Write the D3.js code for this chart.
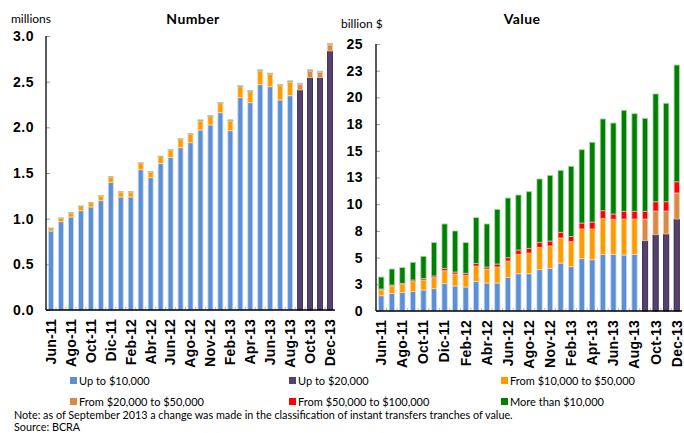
<!DOCTYPE html>
<meta charset="utf-8">
<style>
body { margin: 0; background: #fff; }
svg { font-family: Lato, "DejaVu Sans", sans-serif; }
.tick text { font-weight: bold; }
</style>
<body>
<script src="https://d3js.org/d3.v7.min.js"></script>
<script>

// months shown as categories (two months are missing in the source series)
var months = ["Jun-11","Jul-11","Ago-11","Sep-11","Oct-11","Nov-11","Dic-11","Ene-12","Feb-12","Mar-12",
              "Abr-12","May-12","Jun-12","Jul-12","Ago-12","Oct-12","Nov-12","Ene-13","Feb-13","Mar-13",
              "Apr-13","May-13","Jun-13","Jul-13","Aug-13","Sep-13","Oct-13","Nov-13","Dec-13"];
var tickMonths = months.filter(function(d, i) { return i % 2 === 0; });

// Number (millions)
var numUpTo10k = [0.865,0.967,1.018,1.087,1.128,1.197,1.398,1.237,1.237,1.536,1.449,1.602,1.670,1.777,1.832,
                  1.971,2.026,2.160,1.963,2.325,2.270,2.467,2.445,2.299,2.346,0,0,0,0];
var numUpTo20k = [0,0,0,0,0,0,0,0,0,0,0,0,0,0,0,0,0,0,0,0,0,0,0,0,0,2.409,2.544,2.544,2.836];
var num10kTo50k = [0.029,0.037,0.044,0.048,0.047,0.051,0.058,0.055,0.055,0.070,0.058,0.077,0.082,0.092,0.092,
                   0.098,0.091,0.099,0.106,0.120,0.120,0.150,0.136,0.157,0.150,0,0,0,0];
var num20kTo50k = [0,0,0,0,0,0,0,0,0,0,0,0,0,0,0,0,0,0,0,0,0,0,0,0,0,0.058,0.070,0.055,0.066];
var num50kTo100k = [0.002,0.002,0.002,0.002,0.002,0.002,0.002,0.002,0.002,0.003,0.003,0.003,0.003,0.003,0.003,
                    0.006,0.006,0.006,0.006,0.006,0.006,0.006,0.006,0.006,0.006,0.008,0.009,0.009,0.010];
var numMoreThan = [0.002,0.002,0.002,0.002,0.002,0.002,0.002,0.002,0.002,0.003,0.003,0.003,0.003,0.003,0.003,
                   0.007,0.007,0.007,0.007,0.007,0.007,0.007,0.007,0.007,0.007,0.008,0.008,0.008,0.008];

// Value (billion $)
var valUpTo10k = [1.43,1.65,1.72,1.84,1.97,2.09,2.56,2.34,2.25,2.78,2.62,2.62,3.16,3.49,3.49,
                  3.87,4.00,4.49,4.15,4.90,4.80,5.31,5.31,5.24,5.31,0,0,0,0];
var valUpTo20k = [0,0,0,0,0,0,0,0,0,0,0,0,0,0,0,0,0,0,0,0,0,0,0,0,0,6.58,7.14,7.21,8.61];
var val10kTo50k = [0.54,0.69,0.78,0.91,0.93,1.03,1.21,1.12,1.09,1.43,1.31,1.50,1.52,1.82,1.94,
                   2.09,2.09,2.35,2.34,2.78,2.88,3.37,3.28,3.37,3.30,0,0,0,0];
var val20kTo50k = [0,0,0,0,0,0,0,0,0,0,0,0,0,0,0,0,0,0,0,0,0,0,0,0,0,2.03,2.22,2.15,2.44];
var val50kTo100k = [0.09,0.09,0.09,0.15,0.13,0.16,0.23,0.19,0.19,0.25,0.19,0.28,0.31,0.40,0.44,
                    0.47,0.46,0.53,0.50,0.56,0.65,0.71,0.49,0.73,0.73,0.73,0.87,0.87,1.05];
var valMoreThan = [1.12,1.50,1.47,1.66,2.09,3.12,4.15,3.84,2.87,4.28,4.03,5.12,5.59,5.15,5.30,
                   5.93,6.15,5.80,6.56,6.86,7.47,8.59,8.52,9.45,9.13,8.70,10.09,9.22,10.93];

var seriesKeys = ["upTo10k","upTo20k","from10kTo50k","from20kTo50k","from50kTo100k","moreThan"];
var seriesNames = ["Up to $10,000","Up to $20,000","From $10,000 to $50,000",
                   "From $20,000 to $50,000","From $50,000 to $100,000","More than $10,000"];
var colors = ["#5b8fd6","#54416f","#ff9a00","#db8a45","#ff0000","#008000"];
var strokes = ["#c9daf2","#2a2038","#ffd9a0","#f0c9a6","#ffb0b0","#a8d3a8"];

var color = d3.scaleOrdinal().domain(seriesKeys).range(colors);
var stroke = d3.scaleOrdinal().domain(seriesKeys).range(strokes);

function rows(a, b, c, d, e, f) {
  return months.map(function(m, i) {
    return {month: m, upTo10k: a[i], upTo20k: b[i], from10kTo50k: c[i],
            from20kTo50k: d[i], from50kTo100k: e[i], moreThan: f[i]};
  });
}
var numData = rows(numUpTo10k, numUpTo20k, num10kTo50k, num20kTo50k, num50kTo100k, numMoreThan);
var valData = rows(valUpTo10k, valUpTo20k, val10kTo50k, val20kTo50k, val50kTo100k, valMoreThan);

var svg = d3.select("body").append("svg")
    .attr("width", 684)
    .attr("height", 433);

function panel(data, opt) {
  var x = d3.scaleBand()
      .domain(months)
      .range([opt.left, opt.right])
      .paddingInner(0.5)
      .paddingOuter(0.25);
  var y = d3.scaleLinear()
      .domain([0, opt.max])
      .range([opt.bottom, opt.top]);

  var stacked = d3.stack().keys(seriesKeys)(data);

  var g = svg.append("g");
  g.selectAll("g.layer")
      .data(stacked)
    .enter().append("g")
      .attr("class", "layer")
      .attr("fill", function(d) { return color(d.key); })
      .attr("stroke", function(d) { return stroke(d.key); })
      .attr("stroke-width", 0.8)
    .selectAll("rect")
      .data(function(d) { return d.filter(function(p) { return p[1] - p[0] > 0; }); })
    .enter().append("rect")
      .attr("x", function(d) { return x(d.data.month); })
      .attr("width", x.bandwidth())
      .attr("y", function(d) { return y(d[1]); })
      .attr("height", function(d) { return y(d[0]) - y(d[1]); });

  // y axis
  var ya = g.append("g")
      .attr("transform", "translate(" + opt.left + ",0)")
      .call(d3.axisRight(y).tickValues(d3.range(0, opt.max + 0.001, opt.step))
              .tickFormat(d3.format(opt.fmt)).tickSize(4));
  ya.select(".domain").remove();
  ya.selectAll(".tick line").attr("stroke", "#999");
  ya.selectAll(".tick text")
      .attr("x", opt.labelX - opt.left)
      .attr("text-anchor", "end")
      .style("font-size", "14px")
      .style("letter-spacing", "0.5px")
      .attr("fill", "#000");

  // x axis
  var xa = g.append("g")
      .attr("transform", "translate(0," + opt.bottom + ")")
      .call(d3.axisBottom(x).tickValues(tickMonths).tickSize(0));
  xa.select(".domain").remove();
  xa.selectAll(".tick text")
      .attr("transform", "rotate(-90)")
      .attr("text-anchor", "end")
      .attr("x", -9)
      .attr("y", 0)
      .attr("dy", "0.35em")
      .style("font-size", "14px")
      .style("letter-spacing", "0.2px")
      .attr("fill", "#000");

  // small ticks between bars
  g.selectAll("line.minor")
      .data(months)
    .enter().append("line")
      .attr("class", "minor")
      .attr("x1", function(d) { return x(d) - x.step() * 0.25; })
      .attr("x2", function(d) { return x(d) - x.step() * 0.25; })
      .attr("y1", opt.bottom)
      .attr("y2", opt.bottom - 3)
      .attr("stroke", "#bbb");

  // axis lines
  g.append("line")
      .attr("x1", opt.left).attr("x2", opt.left)
      .attr("y1", opt.top).attr("y2", opt.bottom)
      .attr("stroke", "#000").attr("stroke-width", 1.3);
  g.append("line")
      .attr("x1", opt.left).attr("x2", opt.right)
      .attr("y1", opt.bottom).attr("y2", opt.bottom)
      .attr("stroke", "#000").attr("stroke-width", 1.3);

  g.append("text")
      .attr("x", opt.titleX).attr("y", 24)
      .attr("text-anchor", "middle")
      .style("font-size", "14px")
      .style("font-weight", "bold")
      .style("letter-spacing", "0.4px")
      .text(opt.title);
  g.append("text")
      .attr("x", opt.unitX).attr("y", opt.unitY)
      .style("font-size", "12px")
      .text(opt.unit);
}

panel(numData, {left: 46, right: 335, top: 36, bottom: 310, max: 3, step: 0.5, fmt: ".1f",
                labelX: 34, title: "Number", titleX: 193, unit: "millions", unitX: 11, unitY: 23});
panel(valData, {left: 376, right: 682, top: 44, bottom: 311, max: 25, step: 2.5, fmt: ".0f",
                labelX: 363, title: "Value", titleX: 522, unit: "billion $", unitX: 341, unitY: 28});

// legend
var legendX = [70, 289, 501];
var legendY = [381, 402];
var legend = svg.append("g")
  .selectAll("g")
    .data(seriesKeys)
  .enter().append("g")
    .attr("transform", function(d, i) {
      return "translate(" + legendX[i % 3] + "," + legendY[Math.floor(i / 3)] + ")";
    });
legend.append("rect")
    .attr("x", 0).attr("y", -4)
    .attr("width", 7).attr("height", 7)
    .attr("fill", function(d) { return color(d); });
legend.append("text")
    .attr("x", 9).attr("y", 0)
    .attr("dy", "0.35em")
    .style("font-size", "11px")
    .text(function(d, i) { return seriesNames[i]; });

svg.append("text")
    .attr("x", 14).attr("y", 419)
    .style("font-size", "10.8px")
    .text("Note: as of September 2013 a change was made in the classification of instant transfers tranches of value.");
svg.append("text")
    .attr("x", 14).attr("y", 431)
    .style("font-size", "10.8px")
    .text("Source: BCRA");

</script>
</body>
